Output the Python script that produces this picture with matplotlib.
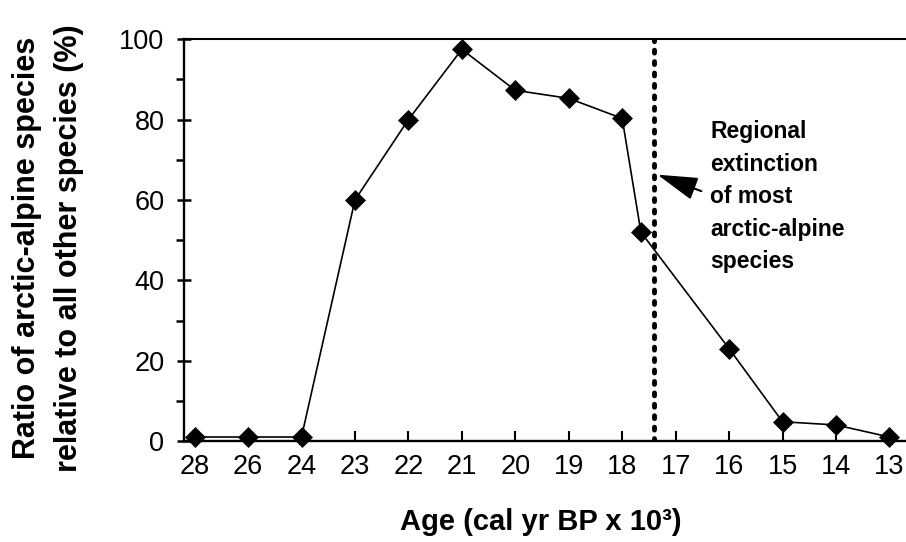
import numpy as np
import matplotlib
matplotlib.use("Agg")
import matplotlib.pyplot as plt
from matplotlib.ticker import MultipleLocator

plt.rcParams['font.family'] = ['Liberation Sans', 'DejaVu Sans']

# category axis (ages, cal yr BP x 10^3)
tick_ages = [28, 26, 24, 23, 22, 21, 20, 19, 18, 17, 16, 15, 14, 13]
tick_labels = [str(a) for a in tick_ages]

# samples
ages = [28, 26, 24, 23, 22, 21, 20, 19, 18, 17.65, 16, 15, 14, 13]
ratio = [1, 1, 1, 60, 80, 97.5, 87.3, 85.3, 80.3, 52, 23, 4.8, 4, 1]

extinction_age = 17.4
note = "Regional\nextinction\nof most\narctic-alpine\nspecies"


def age_pos(a):
    # 28, 26, 24 are spaced by 2 ka, the rest by 1 ka on one category axis
    a = np.asarray(a, dtype=float)
    return np.where(a > 24, (28 - a) / 2, 2 + (24 - a))


fig = plt.figure(figsize=(9.06, 5.42), dpi=100)
ax = fig.add_axes([0.203, 0.1863, 0.797, 0.7412])

ax.plot(age_pos(ages), ratio, color='black', lw=1.2, marker='D', ms=10,
        mfc='black', mec='black', mew=0.5, zorder=4, clip_on=False)

xe = float(age_pos(extinction_age))
ax.plot([xe, xe], [0, 100], color='black', lw=3.5,
        linestyle=(0, (0.6, 1.75)), dash_capstyle='round', zorder=3)

ax.annotate("", xy=(xe + 0.06, 66.3), xytext=(xe + 0.88, 62.2),
            arrowprops=dict(arrowstyle="-|>,head_length=1.25,head_width=0.36",
                            mutation_scale=20, color='black', lw=1.5,
                            shrinkA=0, shrinkB=0))
ax.text(9.65, 79.8, note, fontsize=16.5, fontweight='bold', va='top',
        ha='left', linespacing=1.52)

ax.set_xlim(-0.2, 13.31)
ax.set_ylim(0, 100)
ax.set_xticks(age_pos(tick_ages))
ax.set_xticklabels(tick_labels)
ax.set_yticks(range(0, 101, 20))
ax.yaxis.set_minor_locator(MultipleLocator(10))

ax.tick_params(axis='x', direction='in', length=7.5, width=1.5,
               labelsize=19.5, pad=9)
ax.tick_params(axis='y', which='major', direction='inout', length=10,
               width=1.8, labelsize=19.5, pad=9)
ax.tick_params(axis='y', which='minor', direction='out', length=6,
               width=1.8)

for s in ['left', 'bottom']:
    ax.spines[s].set_linewidth(1.7)
ax.spines['top'].set_linewidth(1.5)
ax.spines['right'].set_visible(False)

fig.text(541 / 906, 1 - 522 / 542, "Age (cal yr BP x 10³)", fontsize=21,
         fontweight='bold', ha='center', va='center')
fig.text(48 / 906, 1 - 248 / 542,
         "Ratio of arctic-alpine species\nrelative to all other species (%)",
         fontsize=22, fontweight='bold', rotation=90, ha='center',
         va='center', linespacing=1.55, multialignment='center')

fig.savefig("out.png", dpi=100)
